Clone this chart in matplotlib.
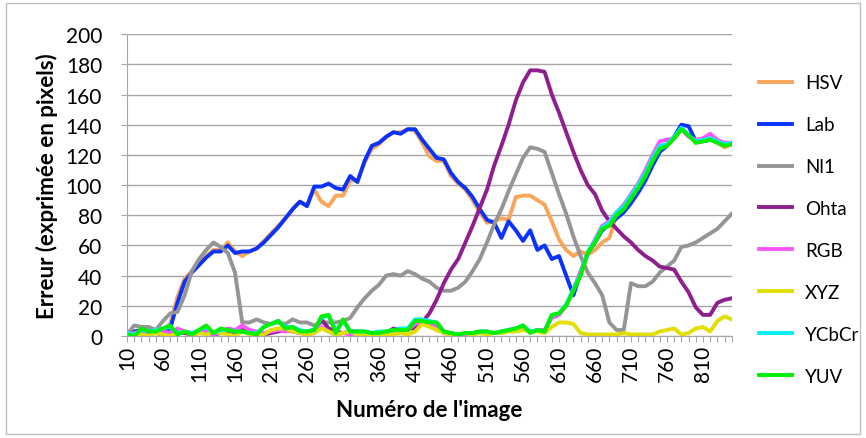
import numpy as np
import matplotlib.pyplot as plt
from matplotlib.patches import Rectangle

# image numbers
images = list(range(10, 860, 10))

hsv = [1, 2, 3, 2, 3, 4,
       8, 26, 38, 43, 48, 53, 57, 57, 62, 56, 53, 56, 58, 63, 68, 73,
       78, 84, 89, 87, 97, 89, 86, 93, 93, 103, 103, 115, 124, 127, 132, 135, 135, 137, 136, 128, 119,
       116, 116, 106, 101, 97, 90, 82, 75, 76, 78, 77, 92, 93, 93, 90, 87, 76, 64, 57, 53, 56, 54,
       57, 62, 65, 80, 84, 90, 97, 105, 115, 123, 126, 131, 137, 133, 128, 129, 130, 128, 125, 127]
lab = [2, 3, 4, 3, 2, 3,
       5, 22, 36, 42, 47, 52, 56, 56, 60, 55, 56, 56, 58, 62, 67, 72,
       78, 84, 89, 86, 99, 99, 101, 98, 97, 106, 102, 116, 126, 128, 132, 135, 134, 137, 137, 130, 124,
       118, 117, 108, 102, 98, 92, 84, 77, 75, 65, 76, 70, 63, 70, 57, 60, 51, 53, 40, 27, 42, 55,
       62, 70, 74, 78, 82, 88, 95, 103, 113, 122, 126, 132, 140, 139, 129, 129, 130, 129, 127, 128]
nl1 = [1, 7, 6, 6, 4, 10, 15, 16, 27, 43, 51, 57, 62, 59, 55, 42, 9, 9, 11, 9, 8, 9,
       8, 11, 9, 9, 7, 9, 9, 9, 10, 12, 19, 25, 30, 34, 40, 41, 40, 43, 41, 38, 36,
       32, 30, 30, 32, 36, 43, 51, 62, 74, 84, 96, 107, 118, 125, 124, 122, 108, 94, 81, 66, 53, 42,
       35, 27, 9, 4, 4, 35, 33, 33, 36, 42, 46, 50, 59, 60, 62, 65, 68, 71, 76, 81]
ohta = [1, 2, 3, 2, 2, 1, 2, 3, 2, 1, 2, 3, 1, 2, 3, 2, 4, 3, 2, 1,
        2, 3, 4, 3, 2, 3, 4, 11, 5, 3, 2, 3, 3, 2, 1, 1, 2, 5, 4, 5,
        5, 9, 15, 24, 35, 44, 51, 62, 73, 85, 97, 113, 126, 140, 156, 168, 176, 176, 175, 160,
        148, 135, 122, 110, 100,
        94, 83, 76, 71, 66, 62, 57, 53, 50, 46, 45, 44, 36, 29, 19, 14, 14, 22, 24, 25]
rgb = [1, 2, 3, 1, 4, 3, 2, 5, 3, 2, 3, 4, 1, 3, 5, 4, 7, 4, 3, 2, 3, 4,
       3, 4, 2, 1, 2, 6, 3, 1, 2, 1, 2, 1, 1, 1, 2, 1, 3, 4, 8, 9, 8,
       7, 2, 1, 1, 1, 2, 2, 3, 2, 3, 4, 5, 6, 3, 4, 4, 12, 14, 20, 31, 43, 55,
       64, 73, 76, 82, 87, 94, 101, 110, 120, 129, 130, 131, 137, 132, 130, 131, 134, 130, 128, 128]
xyz = [0, 1, 1, 0, 2, 1, 0, 2, 3, 1, 2, 1, 3, 2, 1, 0, 3, 1, 0, 1, 4, 5,
       5, 3, 2, 1, 2, 5, 3, 1, 2, 3, 1, 1, 0, 1, 1, 1, 2, 1, 3, 8, 6,
       4, 2, 1, 1, 2, 1, 2, 1, 2, 2, 3, 3, 4, 3, 3, 2, 6, 9, 9, 8, 2, 1,
       1, 1, 1, 1, 2, 1, 1, 1, 1, 3, 4, 5, 1, 2, 5, 6, 3, 10, 13, 11]
ycbcr = [2, 1, 4, 3, 4, 5, 6, 2, 3, 2, 4, 6, 2, 4, 4, 3, 3, 2, 2, 6, 8, 10,
         6, 6, 4, 3, 4, 12, 14, 3, 10, 3, 3, 3, 2, 3, 3, 4, 5, 5, 11, 11, 10,
         9, 3, 2, 1, 2, 2, 3, 3, 2, 3, 4, 5, 7, 3, 4, 3, 14, 15, 21, 31, 41, 56,
         63, 72, 75, 82, 86, 93, 100, 108, 118, 126, 127, 132, 138, 133, 129, 130, 131, 129, 127, 128]
yuv = [1, 0, 5, 3, 3, 5, 7, 1, 3, 1, 4, 7, 2, 5, 4, 3, 3, 2, 1, 6, 8, 10,
       5, 6, 3, 3, 4, 13, 14, 2, 11, 3, 3, 3, 2, 2, 3, 4, 4, 4, 10, 10, 9,
       9, 3, 2, 1, 2, 2, 3, 3, 2, 3, 4, 5, 7, 2, 4, 3, 14, 15, 20, 30, 40, 55,
       62, 71, 73, 80, 84, 91, 98, 106, 116, 124, 126, 131, 137, 133, 128, 129, 130, 128, 126, 127]

names = ['HSV', 'Lab', 'Nl1', 'Ohta', 'RGB', 'XYZ', 'YCbCr', 'YUV']
series = [hsv, lab, nl1, ohta, rgb, xyz, ycbcr, yuv]
colors = ['#F9A55A', '#0A32FF', '#959595', '#8E1F8E', '#FF55FF', '#E2DE00', '#00F0FF', '#00F000']

plt.rcParams['font.family'] = ['Lato', 'DejaVu Sans']

fig = plt.figure(figsize=(8.66, 4.39), dpi=100)
ax = fig.add_axes([0.1467, 0.2323, 0.6983, 0.6877])

for name, vals, c in zip(names, series, colors):
    ax.plot(images, vals, color=c, lw=2.8, label=name, solid_joinstyle='round')

ax.set_xlim(images[0], images[-1])
ax.set_ylim(0, 200)
ax.set_yticks(range(0, 201, 20))
ax.set_xticks(images)
ax.set_xticklabels([str(v) if (v - 10) % 50 == 0 else '' for v in images], rotation=90)
ax.grid(axis='y', color='#A6A6A6', lw=1)
ax.set_axisbelow(True)
for s in ['top', 'right']:
    ax.spines[s].set_visible(False)
for s in ['left', 'bottom']:
    ax.spines[s].set_color('#A6A6A6')
ax.tick_params(axis='both', colors='#A6A6A6', labelcolor='black', labelsize=15, length=4)
ax.tick_params(axis='x', pad=2)
ax.tick_params(axis='y', pad=14)

ax.set_ylabel("Erreur (exprimée en pixels)", fontsize=16, fontweight='bold')
ax.yaxis.set_label_coords(-0.132, 0.5)
ax.yaxis.label.set_va('center')
ax.set_xlabel("Numéro de l'image", fontsize=16, fontweight='bold')
ax.xaxis.set_label_coords(0.5, -0.242)
ax.xaxis.label.set_va('center')

fig.legend(loc='center left', bbox_to_anchor=(0.866, 0.475), frameon=False, fontsize=13.5,
           handlelength=1.75, handletextpad=0.7, labelspacing=1.33, borderpad=0)

# chart border
fig.patches.append(Rectangle((0.007, 0.01), 0.986, 0.98, transform=fig.transFigure,
                             fill=False, edgecolor='#BFBFBF', lw=1))

fig.savefig("out.png", dpi=100)
